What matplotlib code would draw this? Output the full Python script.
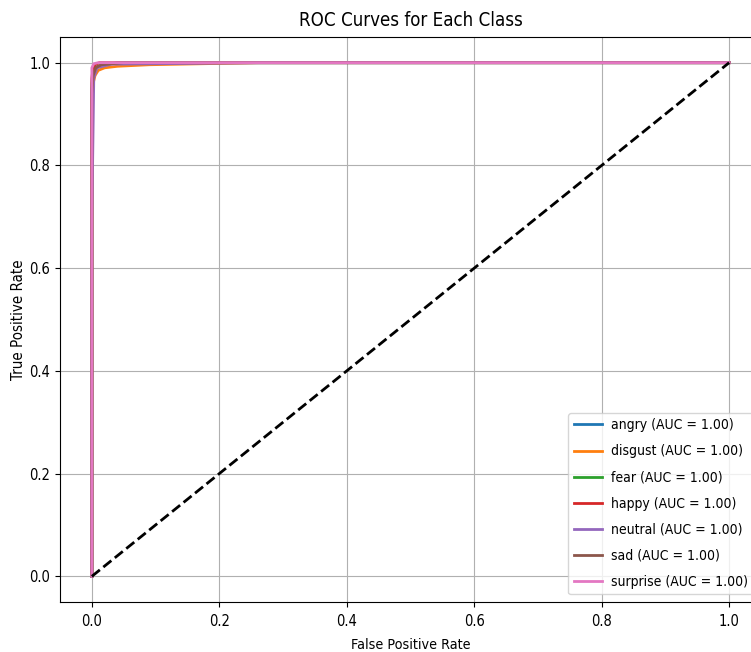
import matplotlib
matplotlib.use("Agg")
import matplotlib.pyplot as plt

plt.rcParams["font.family"] = ["DejaVu Sans"]
plt.rcParams["font.stretch"] = "condensed"

classes = ["angry", "disgust", "fear", "happy", "neutral", "sad", "surprise"]
colors = ["#1f77b4", "#ff7f0e", "#2ca02c", "#d62728", "#9467bd", "#8c564b", "#e377c2"]
aucs = [1.00, 1.00, 1.00, 1.00, 1.00, 1.00, 1.00]

fpr_angry = [0.0, 0.0, 0.002, 0.006, 0.015, 0.04, 1.0]
tpr_angry = [0.0, 0.95, 0.98, 0.99, 0.995, 1.0, 1.0]
fpr_disgust = [0.0, 0.0, 0.002, 0.005, 0.01, 0.02, 0.04, 0.09, 0.26, 1.0]
tpr_disgust = [0.0, 0.93, 0.96, 0.975, 0.985, 0.99, 0.993, 0.996, 1.0, 1.0]
fpr_fear = [0.0, 0.0, 0.002, 0.008, 0.02, 0.05, 1.0]
tpr_fear = [0.0, 0.96, 0.985, 0.992, 0.997, 1.0, 1.0]
fpr_happy = [0.0, 0.0, 0.002, 0.005, 0.012, 1.0]
tpr_happy = [0.0, 0.97, 0.99, 0.996, 1.0, 1.0]
fpr_neutral = [0.0, 0.0, 0.003, 0.008, 0.03, 0.26, 1.0]
tpr_neutral = [0.0, 0.70, 0.97, 0.99, 0.997, 1.0, 1.0]
fpr_sad = [0.0, 0.0, 0.002, 0.006, 0.015, 0.05, 1.0]
tpr_sad = [0.0, 0.94, 0.975, 0.99, 0.996, 1.0, 1.0]
fpr_surprise = [0.0, 0.0, 0.003, 0.01, 1.0]
tpr_surprise = [0.0, 0.99, 0.998, 1.0, 1.0]

fprs = [fpr_angry, fpr_disgust, fpr_fear, fpr_happy, fpr_neutral, fpr_sad, fpr_surprise]
tprs = [tpr_angry, tpr_disgust, tpr_fear, tpr_happy, tpr_neutral, tpr_sad, tpr_surprise]

fig = plt.figure(figsize=(7.51, 6.52), dpi=100)
ax = fig.add_axes([60/751, 50/652, 701/751, 565/652])

for name, c, a, f, t in zip(classes, colors, aucs, fprs, tprs):
    ax.plot(f, t, color=c, lw=2, label=f"{name} (AUC = {a:.2f})")
ax.plot([0, 1], [0, 1], "k--", lw=2)

ax.set_xlim(-0.05, 1.05)
ax.set_ylim(-0.05, 1.05)
ax.tick_params(labelsize=10.5)
ax.tick_params(axis="x", pad=5.5)
ax.set_xlabel("False Positive Rate", fontsize=10.3, labelpad=6)
ax.set_ylabel("True Positive Rate", fontsize=10.8, labelpad=2)
ax.set_title("ROC Curves for Each Class", fontsize=13.4, pad=8)
ax.grid(True)
ax.legend(loc="lower right", fontsize=10, labelspacing=0.87,
          handletextpad=0.65, handlelength=2.0, borderaxespad=0.55)

fig.savefig("out.png", dpi=100)
